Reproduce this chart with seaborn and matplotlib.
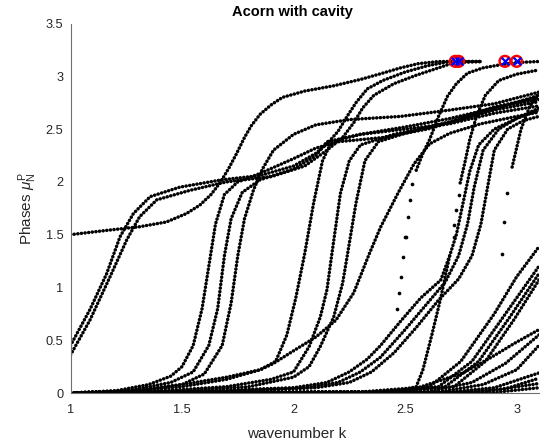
import numpy as np
import pandas as pd
import matplotlib
matplotlib.use('Agg')
import matplotlib.pyplot as plt
import seaborn as sns

# phase curves: (wavenumber k, phase)
top = [(1.0, 1.50), (1.16, 1.54), (1.31, 1.575), (1.43, 1.62), (1.52, 1.70), (1.58, 1.78),
       (1.63, 1.88), (1.67, 1.99), (1.71, 2.13), (1.745, 2.27), (1.78, 2.42), (1.81, 2.53),
       (1.85, 2.64), (1.90, 2.73), (1.95, 2.80), (2.05, 2.86), (2.18, 2.91), (2.30, 2.97),
       (2.40, 3.03), (2.48, 3.08), (2.56, 3.12), (2.65, 3.14), (2.84, 3.14)]
left_a = [(1.0, 0.45), (1.087, 0.79), (1.162, 1.13), (1.222, 1.48), (1.282, 1.70), (1.357, 1.86),
          (1.49, 1.95), (1.68, 2.02), (1.85, 2.06), (2.00, 2.15), (2.10, 2.27), (2.15, 2.36),
          (2.20, 2.48), (2.24, 2.62), (2.28, 2.75), (2.33, 2.88), (2.40, 2.96), (2.50, 3.04),
          (2.60, 3.10), (2.70, 3.14), (2.84, 3.14)]
left_b = [(1.0, 0.36), (1.087, 0.69), (1.177, 1.10), (1.252, 1.45), (1.31, 1.67), (1.387, 1.83),
          (1.536, 1.92), (1.70, 2.00), (1.90, 2.05), (2.05, 2.15), (2.15, 2.30), (2.22, 2.42),
          (2.27, 2.56), (2.31, 2.70), (2.36, 2.82), (2.45, 2.93), (2.55, 3.01), (2.65, 3.08),
          (2.72, 3.13), (2.84, 3.14)]
steep_1 = [(1.0, 0.0), (1.2, 0.02), (1.35, 0.08), (1.45, 0.16), (1.50, 0.25), (1.55, 0.45),
           (1.59, 0.80), (1.62, 1.20), (1.65, 1.60), (1.69, 1.88), (1.75, 2.00), (1.85, 2.08),
           (2.00, 2.22), (2.10, 2.32), (2.20, 2.38), (2.40, 2.42), (2.60, 2.50), (2.80, 2.62),
           (3.10, 2.82)]
steep_2 = [(1.0, 0.0), (1.25, 0.02), (1.45, 0.10), (1.55, 0.20), (1.62, 0.45), (1.66, 0.80),
           (1.69, 1.30), (1.72, 1.65), (1.77, 1.90), (1.85, 2.02), (2.00, 2.12), (2.10, 2.25),
           (2.15, 2.38), (2.30, 2.45), (2.50, 2.52), (2.70, 2.60), (2.90, 2.70), (3.10, 2.78)]
steep_3 = [(1.0, 0.0), (1.30, 0.02), (1.50, 0.08), (1.60, 0.18), (1.68, 0.45), (1.72, 0.85),
           (1.75, 1.30), (1.78, 1.65), (1.82, 1.92), (1.86, 2.12), (1.91, 2.30), (2.00, 2.45),
           (2.10, 2.54), (2.25, 2.59), (2.48, 2.62), (2.70, 2.68), (2.90, 2.74), (3.10, 2.85)]
mid_1 = [(1.0, 0.0), (1.30, 0.02), (1.50, 0.06), (1.70, 0.13), (1.85, 0.22), (1.92, 0.30),
         (1.97, 0.55), (2.01, 0.90), (2.05, 1.32), (2.09, 1.80), (2.13, 2.20), (2.17, 2.38),
         (2.30, 2.45), (2.50, 2.50), (2.70, 2.55), (2.90, 2.65), (3.10, 2.72)]
mid_2 = [(1.0, 0.0), (1.40, 0.02), (1.70, 0.06), (1.90, 0.13), (2.00, 0.20), (2.07, 0.44),
         (2.12, 0.72), (2.15, 0.98), (2.17, 1.29), (2.21, 1.89), (2.25, 2.20), (2.30, 2.35),
         (2.45, 2.45), (2.70, 2.56), (2.90, 2.68), (3.10, 2.76)]
mid_3 = [(1.0, 0.0), (1.50, 0.02), (1.80, 0.06), (2.00, 0.15), (2.07, 0.25), (2.12, 0.44),
         (2.18, 0.72), (2.22, 1.04), (2.24, 1.29), (2.28, 1.80), (2.32, 2.20), (2.38, 2.38),
         (2.50, 2.46), (2.70, 2.57), (2.90, 2.71), (3.10, 2.80)]
diag = [(1.0, 0.0), (1.30, 0.03), (1.50, 0.08), (1.70, 0.15), (1.85, 0.22), (1.91, 0.28),
        (2.00, 0.40), (2.10, 0.53), (2.19, 0.69), (2.27, 0.95), (2.34, 1.32), (2.39, 1.57),
        (2.47, 1.90), (2.54, 2.17), (2.61, 2.36), (2.70, 2.46), (2.84, 2.55), (3.00, 2.62),
        (3.10, 2.66)]
right_1 = [(1.0, 0.0), (1.60, 0.02), (2.00, 0.05), (2.15, 0.10), (2.25, 0.20), (2.33, 0.32),
           (2.39, 0.45), (2.48, 0.68), (2.57, 0.90), (2.66, 1.07), (2.70, 1.30), (2.73, 1.50),
           (2.76, 1.80), (2.79, 2.10), (2.83, 2.35), (2.90, 2.50), (3.00, 2.60), (3.10, 2.70)]
right_2 = [(1.0, 0.0), (1.70, 0.02), (2.05, 0.05), (2.20, 0.10), (2.30, 0.20), (2.39, 0.34),
           (2.50, 0.60), (2.60, 0.85), (2.68, 1.05), (2.74, 1.30), (2.78, 1.60), (2.81, 1.95),
           (2.85, 2.30), (2.92, 2.50), (3.00, 2.60), (3.10, 2.68)]
right_3 = [(1.0, 0.0), (1.80, 0.02), (2.10, 0.05), (2.25, 0.10), (2.35, 0.20), (2.45, 0.38),
           (2.55, 0.62), (2.65, 0.88), (2.74, 1.08), (2.80, 1.30), (2.84, 1.60), (2.87, 1.95),
           (2.90, 2.30), (2.96, 2.50), (3.03, 2.58), (3.10, 2.62)]
# branches that reach pi on the right, drawn on both sides of their near-vertical parts
rise_1 = [(2.55, 2.11), (2.58, 2.27), (2.61, 2.40), (2.65, 2.62), (2.69, 2.81), (2.73, 2.93),
          (2.78, 3.03), (2.85, 3.08), (2.93, 3.11), (3.00, 3.13), (3.10, 3.14)]
rise_2_low = [(1.0, 0.0), (2.45, 0.01), (2.55, 0.06), (2.58, 0.22), (2.62, 0.55), (2.66, 0.90),
              (2.68, 1.10), (2.70, 1.30)]
rise_2 = [(2.747, 1.99), (2.77, 2.20), (2.79, 2.40), (2.82, 2.62), (2.86, 2.82), (2.92, 2.96),
          (3.00, 3.02), (3.10, 3.06)]
rise_3 = [(2.98, 2.14), (3.02, 2.50), (3.06, 2.72), (3.10, 2.84)]
low_1 = [(1.0, 0.0), (2.30, 0.01), (2.61, 0.06), (2.75, 0.30), (2.90, 0.75), (3.00, 1.10),
         (3.10, 1.385)]
low_2 = [(1.0, 0.0), (2.35, 0.01), (2.65, 0.06), (2.80, 0.30), (2.95, 0.75), (3.10, 1.20)]
low_3 = [(1.0, 0.0), (2.40, 0.01), (2.68, 0.06), (2.83, 0.30), (2.97, 0.72), (3.10, 1.13)]
low_4 = [(1.0, 0.0), (2.45, 0.01), (2.72, 0.06), (2.86, 0.30), (2.99, 0.70), (3.10, 1.07)]
low_5 = [(1.0, 0.0), (2.50, 0.01), (2.76, 0.19), (2.88, 0.33), (2.99, 0.47), (3.10, 0.60)]
low_6 = [(1.0, 0.0), (2.60, 0.01), (2.80, 0.10), (2.95, 0.28), (3.10, 0.55)]
low_7 = [(1.0, 0.0), (2.65, 0.01), (2.85, 0.08), (3.00, 0.22), (3.10, 0.45)]
low_8 = [(1.0, 0.0), (2.70, 0.01), (2.90, 0.05), (3.10, 0.19)]
low_9 = [(1.0, 0.0), (2.75, 0.01), (2.95, 0.04), (3.10, 0.14)]
low_10 = [(1.0, 0.0), (2.85, 0.01), (3.10, 0.09)]
low_11 = [(1.0, 0.0), (2.90, 0.005), (3.10, 0.05)]

# single dots of the almost vertical branches
dots_k = [2.465, 2.475, 2.48, 2.49, 2.50, 2.505, 2.515, 2.52, 2.53,
          2.72, 2.72, 2.73, 2.74,
          2.934, 2.944, 2.956]
dots_p = [0.80, 0.95, 1.10, 1.29, 1.48, 1.48, 1.67, 1.83, 1.98,
          1.48, 1.59, 1.73, 1.88,
          1.32, 1.62, 1.89]

# marked points at phase pi
mark_k = [2.725, 2.74, 2.948, 3.0]
mark_p = [np.pi, np.pi, np.pi, np.pi]

curves = [top, left_a, left_b, steep_1, steep_2, steep_3, mid_1, mid_2, mid_3, diag,
          right_1, right_2, right_3, rise_1, rise_2_low, rise_2, rise_3,
          low_1, low_2, low_3, low_4, low_5, low_6, low_7, low_8, low_9, low_10, low_11]

rows = []
for i, c in enumerate(curves):
    for k, p in c:
        rows.append((i, k, p))
df = pd.DataFrame(rows, columns=['curve', 'k', 'phase'])

sns.set_style('white')
plt.rcParams['font.family'] = ['Liberation Sans', 'DejaVu Sans']
plt.rcParams['mathtext.fontset'] = 'custom'
plt.rcParams['mathtext.rm'] = 'Liberation Sans'
plt.rcParams['mathtext.it'] = 'Liberation Sans:italic'

fig = plt.figure(figsize=(5.44, 4.41), dpi=100)
ax = fig.add_axes([0.1296, 0.1088, 0.861, 0.8379])

sns.lineplot(data=df, x='k', y='phase', units='curve', estimator=None, sort=False,
             color='black', linewidth=2.5, linestyle=(0, (0.05, 1.0)),
             dash_capstyle='round', ax=ax, legend=False)
sns.scatterplot(x=dots_k, y=dots_p, color='black', s=7, linewidth=0, ax=ax)
ax.scatter(mark_k, mark_p, s=60, facecolors='none', edgecolors='red', linewidths=1.8, zorder=5)
ax.scatter(mark_k, mark_p, s=30, marker='x', color='blue', linewidths=1.6, zorder=6)

ax.set_xlim(1, 3.1)
ax.set_ylim(0, 3.5)
ax.set_xticks([1, 1.5, 2, 2.5, 3])
ax.set_xticklabels(['1', '1.5', '2', '2.5', '3'])
ax.set_yticks([0, 0.5, 1, 1.5, 2, 2.5, 3, 3.5])
ax.set_yticklabels(['0', '0.5', '1', '1.5', '2', '2.5', '3', '3.5'])
for side in ['top', 'right']:
    ax.spines[side].set_visible(False)
for side in ['left', 'bottom']:
    ax.spines[side].set_color('#707070')
    ax.spines[side].set_linewidth(0.8)
ax.tick_params(direction='in', length=4, width=0.7, color='#707070',
               labelcolor='#262626', labelsize=9.2)
ax.tick_params(axis='x', pad=8)
ax.tick_params(axis='y', pad=5)

ax.set_xlabel('wavenumber k', fontsize=11, color='#262626')
ax.xaxis.set_label_coords((297 - 70.5) / 468.3, -0.093)
ax.set_ylabel(r'Phases $\mu_{\mathrm{N}}^{\mathrm{P}}$', fontsize=11, color='#262626')
ax.yaxis.set_label_coords(-0.068, 0.5)
fig.text(292 / 544, 1 - 12 / 441, 'Acorn with cavity', ha='center', va='center',
         fontsize=10.5, fontweight='bold', color='black')

plt.savefig('out.png', dpi=100)
